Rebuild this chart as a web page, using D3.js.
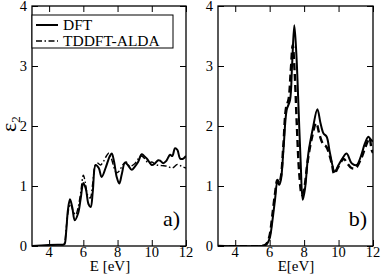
<!DOCTYPE html>
<html>
<head>
<meta charset="utf-8">
<script src="https://cdn.jsdelivr.net/npm/d3@7"></script>
<style>
  body { margin: 0; background: #fff; }
  svg text { font-family: "Liberation Serif", "DejaVu Serif", serif; fill: #000; }
</style>
</head>
<body>
<svg id="chart" width="382" height="276"></svg>
<script>
// x ticks / y ticks
const xMajor = [4, 6, 8, 10, 12];
const yMajor = [0, 1, 2, 3, 4];

// panel a) values
const aE_dft = [3, 4.5, 4.8, 4.9, 5.0, 5.1, 5.22, 5.35, 5.5, 5.7, 5.85, 6.0, 6.15, 6.3, 6.43, 6.55, 6.72, 6.9, 7.07, 7.3, 7.55, 7.66, 7.8, 7.95, 8.1, 8.25, 8.43, 8.6, 8.83, 9.0, 9.2, 9.41, 9.55, 9.7, 9.85, 10.0, 10.2, 10.38, 10.5, 10.67, 10.85, 11.07, 11.2, 11.36, 11.5, 11.65, 11.8, 12];
const aV_dft = [0, 0.02, 0.02, 0.03, 0.25, 0.6, 0.78, 0.65, 0.43, 0.55, 0.8, 1.05, 0.95, 0.7, 0.65, 0.9, 1.35, 1.3, 1.15, 1.3, 1.5, 1.54, 1.4, 1.15, 1.04, 1.2, 1.39, 1.35, 1.27, 1.32, 1.4, 1.53, 1.5, 1.46, 1.4, 1.35, 1.38, 1.43, 1.42, 1.38, 1.42, 1.52, 1.5, 1.63, 1.6, 1.46, 1.45, 1.5];
const aE_td = [3, 4.8, 4.9, 5.0, 5.1, 5.25, 5.4, 5.55, 5.7, 5.85, 6.0, 6.12, 6.25, 6.4, 6.55, 6.7, 6.85, 7.0, 7.2, 7.35, 7.5, 7.65, 7.8, 7.95, 8.1, 8.3, 8.5, 8.7, 9.0, 9.2, 9.4, 9.6, 9.8, 10.0, 10.3, 10.6, 10.9, 11.2, 11.5, 11.8, 12];
const aV_td = [0, 0, 0.05, 0.3, 0.55, 0.7, 0.58, 0.52, 0.65, 0.9, 1.18, 1.05, 0.85, 0.8, 1.05, 1.35, 1.38, 1.35, 1.42, 1.5, 1.55, 1.45, 1.3, 1.22, 1.25, 1.35, 1.4, 1.33, 1.37, 1.45, 1.5, 1.45, 1.38, 1.4, 1.35, 1.34, 1.33, 1.3, 1.36, 1.32, 1.3];

// panel b) values
const bE_dft = [3, 5.5, 5.7, 5.85, 6.0, 6.15, 6.31, 6.45, 6.55, 6.65, 6.8, 6.99, 7.18, 7.3, 7.43, 7.55, 7.66, 7.8, 7.92, 8.05, 8.25, 8.5, 8.77, 8.95, 9.12, 9.31, 9.5, 9.78, 10.0, 10.2, 10.47, 10.76, 11.05, 11.3, 11.53, 11.73, 11.85, 12];
const bV_dft = [0, 0, 0.01, 0.04, 0.13, 0.4, 0.77, 1.08, 1.02, 1.1, 1.6, 2.27, 2.43, 3.0, 3.68, 3.2, 2.43, 1.4, 0.77, 0.95, 1.55, 1.95, 2.28, 2.05, 1.88, 1.82, 1.55, 1.24, 1.35, 1.45, 1.54, 1.38, 1.35, 1.5, 1.71, 1.82, 1.78, 1.74];
const bE_td = [3, 5.5, 5.7, 5.85, 6.0, 6.15, 6.3, 6.45, 6.55, 6.65, 6.8, 6.95, 7.1, 7.22, 7.34, 7.45, 7.58, 7.72, 7.87, 8.0, 8.2, 8.45, 8.7, 8.9, 9.1, 9.3, 9.6, 9.75, 9.95, 10.3, 10.5, 10.75, 11.0, 11.3, 11.5, 11.7, 11.8, 11.92, 12];
const bV_td = [0, 0, 0.01, 0.05, 0.18, 0.5, 0.85, 1.1, 1.05, 1.15, 1.7, 2.3, 2.45, 2.9, 3.35, 2.9, 2.0, 1.2, 0.85, 0.95, 1.4, 1.8, 2.05, 1.85, 1.7, 1.65, 1.38, 1.2, 1.3, 1.45, 1.38, 1.3, 1.3, 1.45, 1.6, 1.75, 1.8, 1.6, 1.55];

const FONT = "Liberation Serif, DejaVu Serif, serif";
const svg = d3.select("#chart");
const plotTop = 6, plotBottom = 246;

const panels = [
  {id: "a", left: 32, right: 186, tag: "a)", xlab: "E [eV]", xlabX: 110,
   dft: d3.zip(aE_dft, aV_dft), td: d3.zip(aE_td, aV_td), tdDash: "6,2.5,1.5,2.5", tdWidth: 1.4},
  {id: "b", left: 218, right: 373, tag: "b)", xlab: "E[eV]", xlabX: 296,
   dft: d3.zip(bE_dft, bV_dft), td: d3.zip(bE_td, bV_td), tdDash: "7,4", tdWidth: 2.4}
];

const y = d3.scaleLinear().domain([0, 4]).range([plotBottom, plotTop]);

panels.forEach(p => {
  const x = d3.scaleLinear().domain([3, 12]).range([p.left, p.right]);
  const g = svg.append("g");

  g.append("clipPath").attr("id", "clip-" + p.id)
    .append("rect").attr("x", p.left).attr("y", plotTop)
    .attr("width", p.right - p.left).attr("height", plotBottom - plotTop);

  const line = d3.line().x(d => x(d[0])).y(d => y(d[1])).curve(d3.curveCatmullRom.alpha(0.5));
  const plot = g.append("g").attr("clip-path", `url(#clip-${p.id})`);
  plot.append("path").attr("d", line(p.td)).attr("fill", "none")
    .attr("stroke", "#000").attr("stroke-width", p.tdWidth).attr("stroke-dasharray", p.tdDash);
  plot.append("path").attr("d", line(p.dft)).attr("fill", "none")
    .attr("stroke", "#000").attr("stroke-width", 2);

  // axes: bottom/top with inward ticks
  const xMinor = d3.range(3, 12.001, 0.2).filter(v => !xMajor.some(m => Math.abs(m - v) < 1e-6));
  const xb = g.append("g").attr("transform", `translate(0,${plotBottom})`);
  xb.call(d3.axisTop(x).tickValues(xMinor).tickSize(3).tickFormat(""));
  xb.call(d3.axisTop(x).tickValues(xMajor).tickSize(6).tickFormat(""));
  const xt = g.append("g").attr("transform", `translate(0,${plotTop})`);
  xt.call(d3.axisBottom(x).tickValues(xMinor).tickSize(3).tickFormat(""));
  xt.call(d3.axisBottom(x).tickValues(xMajor).tickSize(6).tickFormat(""));

  const yMinor = [0.5, 1.5, 2.5, 3.5];
  const yl = g.append("g").attr("transform", `translate(${p.left},0)`);
  yl.call(d3.axisRight(y).tickValues(yMinor).tickSize(3).tickFormat(""));
  yl.call(d3.axisRight(y).tickValues(yMajor).tickSize(6).tickFormat(""));
  const yr = g.append("g").attr("transform", `translate(${p.right},0)`);
  yr.call(d3.axisLeft(y).tickValues(yMinor).tickSize(3).tickFormat(""));
  yr.call(d3.axisLeft(y).tickValues(yMajor).tickSize(6).tickFormat(""));

  g.selectAll(".domain").remove();
  g.selectAll(".tick line").attr("stroke", "#000").attr("stroke-width", 1);

  g.append("rect").attr("x", p.left).attr("y", plotTop)
    .attr("width", p.right - p.left).attr("height", plotBottom - plotTop)
    .attr("fill", "none").attr("stroke", "#000").attr("stroke-width", 1.3);

  // tick labels
  g.selectAll(".xl").data(xMajor).join("text")
    .attr("x", d => x(d)).attr("y", plotBottom + 11)
    .attr("font-family", FONT)
    .attr("text-anchor", "middle").attr("font-size", 14.5).text(d => d);
  g.selectAll(".yl").data(yMajor).join("text")
    .attr("x", p.left - 5).attr("y", d => y(d) + 4.5)
    .attr("font-family", FONT)
    .attr("text-anchor", "end").attr("font-size", 14.5).text(d => d);

  g.append("text").attr("x", p.xlabX).attr("y", 271)
    .attr("font-family", FONT)
    .attr("text-anchor", "middle").attr("font-size", 15).text(p.xlab);

  g.append("text").attr("x", p.right - 6).attr("y", 226)
    .attr("font-family", FONT)
    .attr("text-anchor", "end").attr("font-size", 22).text(p.tag);
});

// y label
const yt = svg.append("text").attr("transform", "translate(16,124) rotate(-90)")
  .attr("font-family", FONT)
  .attr("text-anchor", "middle").attr("font-size", 22);
yt.append("tspan").text("ε");
yt.append("tspan").attr("font-size", 13).attr("dy", 4).text("2");

// legend
const lg = svg.append("g");
lg.append("rect").attr("x", 32).attr("y", 15).attr("width", 141).attr("height", 33)
  .attr("fill", "#fff").attr("stroke", "#000").attr("stroke-width", 1);
const legendItems = [
  {label: "DFT", dash: null, w: 2},
  {label: "TDDFT-ALDA", dash: "6,2.5,1.5,2.5", w: 1.4}
];
legendItems.forEach((it, i) => {
  const yy = 25 + i * 16;
  lg.append("line").attr("x1", 36).attr("x2", 58).attr("y1", yy).attr("y2", yy)
    .attr("stroke", "#000").attr("stroke-width", it.w)
    .attr("stroke-dasharray", it.dash);
  lg.append("text").attr("x", 63).attr("y", yy + 5).attr("font-size", 15.5)
    .attr("font-family", FONT).text(it.label);
});
</script>
</body>
</html>
